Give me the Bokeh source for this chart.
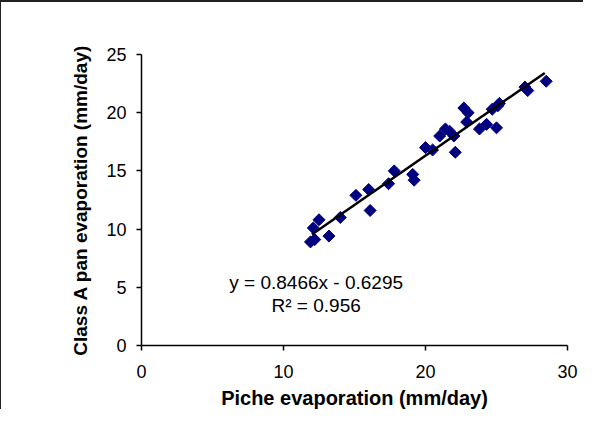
import math
from bokeh.plotting import figure
from bokeh.models import ColumnDataSource, Range1d, FixedTicker, Label
from bokeh.embed import file_html
from bokeh.resources import INLINE

piche = [11.9, 12.2, 12.1, 12.5, 13.2, 14.0, 15.1, 16.0, 16.1, 17.4, 17.8, 19.1,
         19.2, 20.0, 20.5, 21.0, 21.4, 21.7, 22.0, 22.1, 22.7, 23.0, 22.9, 23.8,
         24.3, 25.0, 24.7, 25.1, 25.2, 27.0, 27.2, 28.5]
pan = [8.9, 9.1, 10.1, 10.8, 9.4, 11.0, 12.9, 13.4, 11.6, 13.9, 15.0, 14.7,
       14.2, 17.0, 16.8, 18.0, 18.6, 18.4, 18.0, 16.6, 20.4, 20.0, 19.2, 18.6,
       19.0, 18.7, 20.3, 20.6, 20.8, 22.2, 21.9, 22.7]
slope = 0.8466
intercept = -0.6295
fit_x = [12.0, 28.4]
fit_y = [slope * v + intercept for v in fit_x]
x_ticks = [0, 10, 20, 30]
y_ticks = [0, 5, 10, 15, 20, 25]
eq_text = "y = 0.8466x - 0.6295"
r2_text = "R\u00b2 = 0.956"

FONT = "Liberation Sans"

p = figure(width=583, height=409, output_backend="svg", toolbar_location=None,
           x_range=Range1d(0, 30), y_range=Range1d(0, 25),
           min_border_left=140, min_border_right=17, min_border_top=52,
           min_border_bottom=64)
p.styles = {"border-top": "2px solid #222222", "border-left": "1px solid #222222"}
p.outline_line_color = None
p.xgrid.visible = False
p.ygrid.visible = False

for ax in (p.xaxis[0], p.yaxis[0]):
    ax.axis_line_color = "black"
    ax.axis_line_width = 1.5
    ax.major_tick_line_color = "black"
    ax.major_tick_line_width = 1.5
    ax.major_tick_out = 5
    ax.major_tick_in = 0
    ax.minor_tick_line_color = None
    ax.major_label_text_font = FONT
    ax.major_label_text_font_size = "18px"
    ax.major_label_text_color = "black"
    ax.axis_label_text_font = FONT
    ax.axis_label_text_font_style = "bold"
    ax.axis_label_text_font_size = "19px"
    ax.axis_label_text_color = "black"

p.xaxis.ticker = FixedTicker(ticks=x_ticks)
p.yaxis.ticker = FixedTicker(ticks=y_ticks)
p.xaxis.axis_label = "Piche evaporation (mm/day)"
p.yaxis.axis_label = "Class A pan evaporation (mm/day)"
p.xaxis.axis_label_text_font_size = "20px"
p.xaxis.major_label_standoff = 14
p.xaxis.axis_label_standoff = 6
p.yaxis.major_label_standoff = 10
p.yaxis.axis_label_standoff = 12

src = ColumnDataSource(data=dict(x=piche, y=pan))
p.scatter("x", "y", source=src, marker="square", angle=math.pi / 4, size=8.5,
          fill_color="#000080", line_color="#000080")
p.line(fit_x, fit_y, line_color="black", line_width=2.5)

p.add_layout(Label(x=12.3, y=5.45, text=eq_text, text_align="center",
                   text_baseline="middle", text_font=FONT,
                   text_font_size="19px", text_color="black"))
p.add_layout(Label(x=12.3, y=3.4, text=r2_text, text_align="center",
                   text_baseline="middle", text_font=FONT,
                   text_font_size="19px", text_color="black"))

open("out.html", "w").write(file_html(p, INLINE))
